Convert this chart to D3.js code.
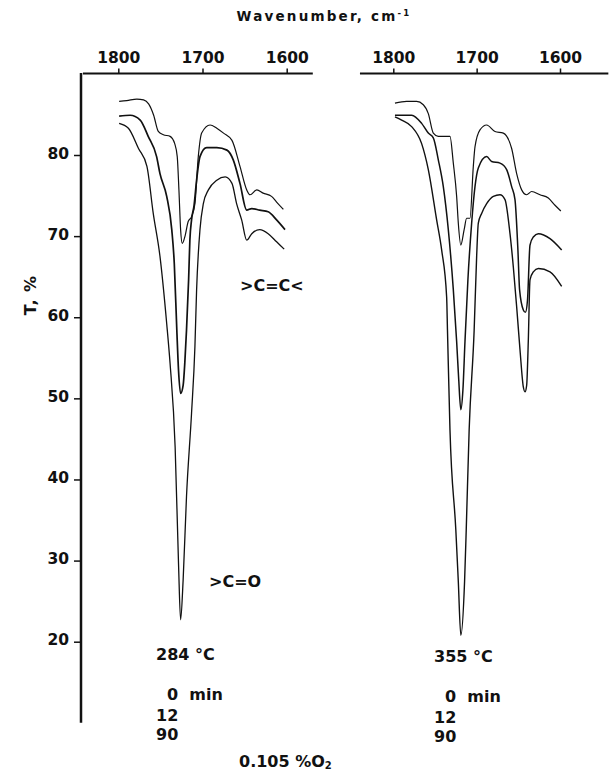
<!DOCTYPE html>
<html>
<head>
<meta charset="utf-8">
<script src="https://cdn.jsdelivr.net/npm/d3@7"></script>
<style>
  body { margin: 0; background: #fff; }
  text { font-family: "DejaVu Sans", sans-serif; font-weight: bold; fill: #111; }
</style>
</head>
<body>
<div id="chart"></div>
<script>
// ---- data: [wavenumber cm-1, T %] ----
const wnTicks = [1800, 1700, 1600];
const tTicks = [20, 30, 40, 50, 60, 70, 80];
const timeLabels = ["0", "12", "90"];
const panelTemps = ["284", "355"];

// 284 C panel
const left0 = [[1799,86.6],[1790,86.7],[1778,86.9],[1770,86.8],[1764,86.3],[1758,84.9],[1752.5,82.9],[1746.5,82.5],[1738.5,82.3],[1733,81.4],[1730,79.8],[1728,75.7],[1726,70.8],[1724,69.1],[1721,69.9],[1717,71.8],[1713,72.4],[1709,74.0],[1705,79.8],[1701,82.7],[1691,83.7],[1683,83.3],[1675,82.7],[1665,81.8],[1655.5,78.6],[1647.5,75.7],[1643.5,75.1],[1635.5,75.7],[1628,75.3],[1618,74.9],[1612,74.2],[1604,73.3]];
const left12 = [[1799,84.8],[1786,84.9],[1774,84.3],[1764.5,82.3],[1754.5,79.8],[1750.5,77.7],[1742.5,74.9],[1736.5,70.8],[1733.5,66.6],[1730.5,58.4],[1728.5,53.5],[1726,50.6],[1723,51.6],[1721,54.4],[1719,58.4],[1716.5,64.6],[1715,69.5],[1713,72.0],[1710,73.8],[1707,76.9],[1703,79.8],[1695,80.9],[1683,80.9],[1671,80.6],[1663.5,79.4],[1655.5,76.5],[1647.5,73.2],[1641.5,73.4],[1632,73.2],[1622,73.0],[1612,72.0],[1602,70.8]];
const left90 = [[1799,83.9],[1788,83.3],[1776,80.8],[1766,78.6],[1758.5,72.8],[1750.5,67.5],[1742.5,59.2],[1738.5,54.3],[1732.5,44.0],[1728.5,29.7],[1726,22.7],[1723,27.6],[1719,37.9],[1713,48.2],[1709,56.4],[1707,63.4],[1703,70.8],[1699,74.0],[1693,75.7],[1683,76.9],[1673,77.3],[1665,76.5],[1659.5,74.0],[1653.5,72.0],[1647.5,69.5],[1641.5,70.3],[1632,70.8],[1622,70.3],[1612,69.3],[1603,68.4]];

// 355 C panel
const right0 = [[1798,86.4],[1784,86.6],[1772,86.6],[1764,86.2],[1758,85.1],[1752,82.7],[1746,82.3],[1738,82.3],[1732,82.3],[1728,79.0],[1724,74.9],[1722,71.6],[1719,68.9],[1715,70.8],[1712,72.2],[1708,72.2],[1704,78.6],[1702,81.0],[1696,83.1],[1688,83.7],[1678,82.9],[1668,82.7],[1658,80.8],[1652,77.7],[1646,75.7],[1640,75.1],[1634,75.5],[1624,75.1],[1614,74.7],[1606,73.8],[1599,73.1]];
const right12 = [[1798,84.9],[1788,84.9],[1778,84.9],[1766,83.9],[1758,82.7],[1752,82.1],[1746,79.4],[1740,76.1],[1734,70.8],[1728,63.4],[1724,57.0],[1721.5,52.3],[1719,48.6],[1716.5,51.0],[1714,57.0],[1710.5,64.6],[1706,71.6],[1702,76.1],[1698,78.4],[1688,79.8],[1682,79.2],[1672,79.0],[1664,78.2],[1658,76.1],[1654,74.5],[1650.5,68.3],[1648.5,63.4],[1644,60.9],[1641.5,60.6],[1639,62.1],[1636,68.9],[1632,69.9],[1626,70.3],[1612,69.7],[1598,68.3]];
const right90 = [[1798,84.7],[1790,84.3],[1778,83.5],[1766,81.4],[1758,78.2],[1748,72.0],[1742,68.3],[1736,62.5],[1735,58.4],[1732,46.1],[1725,33.8],[1722,27.4],[1719,20.8],[1714.5,27.4],[1712.5,33.8],[1709,46.1],[1703,58.4],[1700,67.5],[1698,71.6],[1694,72.8],[1688,74.0],[1680,74.9],[1672,75.1],[1666,74.5],[1660,70.3],[1656,66.2],[1652,61.3],[1648,56.0],[1644,51.4],[1642,50.8],[1640,51.6],[1638,57.2],[1636,64.6],[1632,65.6],[1626,66.0],[1612,65.6],[1598,63.8]];

const width = 609, height = 772;

const svg = d3.select("#chart").append("svg")
  .attr("width", width)
  .attr("height", height);

// scales
const xLeft = d3.scaleLinear().domain([1800, 1600]).range([118.3, 286.7]);
const xRight = d3.scaleLinear().domain([1800, 1600]).range([393.3, 560]);
const y = d3.scaleLinear().domain([20, 80]).range([641.7, 155]);
const axisY = 73.5;

// top axes
function topAxis(x, from, to) {
  svg.append("line")
    .attr("x1", x(from)).attr("x2", x(to))
    .attr("y1", axisY).attr("y2", axisY)
    .attr("stroke", "#111").attr("stroke-width", 2);
  const g = svg.append("g")
    .attr("transform", `translate(0,${axisY})`)
    .call(d3.axisTop(x).tickValues(wnTicks).tickSize(5).tickPadding(6).tickFormat(d3.format("d")));
  g.select(".domain").remove();
  g.selectAll(".tick line").attr("stroke", "#111").attr("stroke-width", 1.5);
  g.selectAll(".tick text").attr("font-size", 15.5).attr("font-family", "DejaVu Sans").attr("font-weight", "bold").attr("fill", "#111");
}
topAxis(xLeft, 1842, 1569);
topAxis(xRight, 1840, 1542);

// left T axis
svg.append("line")
  .attr("x1", 81).attr("x2", 81)
  .attr("y1", y(90.1)).attr("y2", y(10))
  .attr("stroke", "#111").attr("stroke-width", 2.5);
const gy = svg.append("g")
  .attr("transform", "translate(81,0)")
  .call(d3.axisLeft(y).tickValues(tTicks).tickSize(7).tickPadding(5));
gy.select(".domain").remove();
gy.selectAll(".tick line").attr("stroke", "#111").attr("stroke-width", 1.5);
gy.selectAll(".tick text").attr("font-size", 15.5).attr("font-family", "DejaVu Sans").attr("font-weight", "bold").attr("fill", "#111").attr("dy", "0.2em");

// curves
function drawCurve(x, data, w) {
  const line = d3.line()
    .x(d => x(d[0]))
    .y(d => y(d[1]))
    .curve(d3.curveMonotoneX);
  svg.append("path")
    .datum(data)
    .attr("d", line)
    .attr("fill", "none")
    .attr("stroke", "#111")
    .attr("stroke-width", w)
    .attr("stroke-linejoin", "round");
}
drawCurve(xLeft, left0, 1.2);
drawCurve(xLeft, left12, 1.7);
drawCurve(xLeft, left90, 1.3);
drawCurve(xRight, right0, 1.2);
drawCurve(xRight, right12, 1.5);
drawCurve(xRight, right90, 1.4);

// titles
const title = svg.append("text")
  .attr("x", 324).attr("y", 21)
  .attr("text-anchor", "middle")
  .attr("font-size", 13.5)
  .attr("letter-spacing", 2.2)
  .text("Wavenumber,  cm");
title.append("tspan").attr("font-size", 8.5).attr("dy", -5).text("-1");

svg.append("text")
  .attr("transform", "translate(36,295) rotate(-90)")
  .attr("text-anchor", "middle")
  .attr("font-size", 16)
  .attr("letter-spacing", 1)
  .text("T,  %");

// group annotations
svg.append("text").attr("x", 240).attr("y", 291).attr("font-size", 16).text(">C=C<");
svg.append("text").attr("x", 209).attr("y", 587).attr("font-size", 16).text(">C=O");

function panelLabels(x0, yTemp, temp) {
  svg.append("text").attr("x", x0).attr("y", yTemp).attr("font-size", 16).text(temp + " \u00B0C");
  svg.append("text").attr("x", x0 + 11).attr("y", yTemp + 40).attr("font-size", 16).text(timeLabels[0] + "\u00A0 min");
  svg.append("text").attr("x", x0).attr("y", yTemp + 61).attr("font-size", 16).text(timeLabels[1]);
  svg.append("text").attr("x", x0).attr("y", yTemp + 80).attr("font-size", 16).text(timeLabels[2]);
}
panelLabels(156, 660, panelTemps[0]);
panelLabels(434, 662, panelTemps[1]);

const o2 = svg.append("text").attr("x", 239).attr("y", 767).attr("font-size", 16).text("0.105  %O");
o2.append("tspan").attr("font-size", 10).attr("dy", 2).text("2");
</script>
</body>
</html>
